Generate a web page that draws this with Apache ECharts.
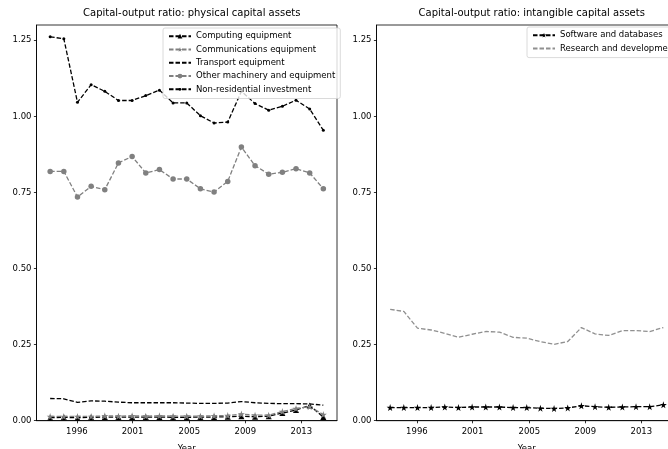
<!DOCTYPE html>
<html>
<head>
<meta charset="utf-8">
<script src="https://cdn.jsdelivr.net/npm/echarts@6/dist/echarts.min.js"></script>
<style>
html,body{margin:0;padding:0;background:#fff;}
#chart{width:668px;height:449px;}
</style>
</head>
<body>
<div id="chart"></div>
<script>
// ---- data (x = observation index 0..20) ----
const tickPositions = [1.96, 6.03, 10.19, 14.29, 18.39];
const tickLabels = ['1996', '2001', '2005', '2009', '2013'];
const yTicks = [0, 0.25, 0.5, 0.75, 1.0, 1.25];

const computing = [0.010, 0.011, 0.010, 0.011, 0.012, 0.012, 0.012, 0.012, 0.012, 0.011, 0.011, 0.012, 0.012, 0.013, 0.015, 0.013, 0.015, 0.025, 0.035, 0.050, 0.012];
const communications = [0.014, 0.014, 0.014, 0.014, 0.016, 0.015, 0.016, 0.015, 0.016, 0.015, 0.015, 0.015, 0.016, 0.017, 0.022, 0.018, 0.018, 0.030, 0.040, 0.046, 0.020];
const transport = [0.073, 0.072, 0.060, 0.065, 0.064, 0.061, 0.059, 0.059, 0.059, 0.059, 0.058, 0.057, 0.057, 0.058, 0.063, 0.059, 0.057, 0.056, 0.056, 0.055, 0.051];
const otherMachinery = [0.819, 0.819, 0.735, 0.770, 0.759, 0.847, 0.868, 0.814, 0.825, 0.794, 0.794, 0.762, 0.751, 0.786, 0.899, 0.838, 0.810, 0.816, 0.828, 0.814, 0.762];
const nonResidential = [1.261, 1.255, 1.046, 1.104, 1.082, 1.052, 1.052, 1.068, 1.086, 1.044, 1.044, 1.002, 0.978, 0.981, 1.082, 1.042, 1.020, 1.033, 1.053, 1.024, 0.954];
const software = [0.043, 0.043, 0.043, 0.043, 0.045, 0.043, 0.045, 0.045, 0.045, 0.043, 0.043, 0.041, 0.040, 0.042, 0.049, 0.046, 0.044, 0.045, 0.046, 0.046, 0.052];
const researchDev = [0.366, 0.359, 0.304, 0.298, 0.287, 0.274, 0.284, 0.293, 0.291, 0.274, 0.271, 0.260, 0.251, 0.260, 0.306, 0.285, 0.280, 0.296, 0.296, 0.293, 0.306];

const titles = ['Capital-output ratio: physical capital assets', 'Capital-output ratio: intangible capital assets'];

// ---- styling ----
const FONT = 'DejaVu Sans';
const BLACK = '#000000';
const GREY = '#808080';
const DASH = [4.5, 2];
const STAR = 'path://M50,0 L61,35 L98,35 L68,57 L79,91 L50,70 L21,91 L32,57 L2,35 L39,35 Z';
// invisible marker (used so the legend shows a bare line) and a small dot with padding
const NOMARK = 'path://M0,0 M10,10';
const SMALLDOT = 'path://M0,0 M10,10 M5,2 A3,3 0 1,1 5,8 A3,3 0 1,1 5,2 Z';

function pairs(arr) { return arr.map((v, i) => [i, v]); }

function mkSeries(name, data, color, symbol, size, gi, showSym) {
  return {
    name: name, type: 'line', xAxisIndex: gi, yAxisIndex: gi,
    data: pairs(data),
    symbol: symbol, symbolSize: size, showSymbol: showSym !== false, showAllSymbol: true,
    lineStyle: { color: color, width: 1.3, type: DASH },
    itemStyle: { color: color },
    emphasis: { disabled: true },
    z: 2
  };
}

const gridTop = 25, gridH = 395.7, gridW = 300.5;

function xAxis(gi) {
  return {
    type: 'value', gridIndex: gi, min: -1, max: 21,
    splitLine: { show: false },
    axisLine: { show: true, onZero: false, lineStyle: { color: BLACK, width: 0.8 } },
    axisTick: { show: true, length: 2.6, customValues: tickPositions, lineStyle: { color: BLACK, width: 0.8 } },
    axisLabel: {
      show: true, customValues: tickPositions, margin: 7,
      fontFamily: FONT, fontSize: 8.5, color: '#000',
      formatter: function (v) { const k = tickPositions.indexOf(v); return k >= 0 ? tickLabels[k] : ''; }
    },
    name: 'Year', nameLocation: 'middle', nameGap: 24,
    nameTextStyle: { fontFamily: FONT, fontSize: 8.5, color: '#000' }
  };
}
function yAxis(gi) {
  return {
    type: 'value', gridIndex: gi, min: 0, max: 1.3,
    splitLine: { show: false },
    axisLine: { show: true, onZero: false, lineStyle: { color: BLACK, width: 0.8 } },
    axisTick: { show: true, length: 2.6, customValues: yTicks, lineStyle: { color: BLACK, width: 0.8 } },
    axisLabel: {
      show: true, customValues: yTicks, margin: 5,
      fontFamily: FONT, fontSize: 8.5, color: '#000',
      formatter: function (v) { return v.toFixed(2); }
    }
  };
}

const legendCommon = {
  orient: 'vertical', selectedMode: false,
  itemWidth: 22, itemHeight: 6, itemGap: 3,
  padding: [3, 5, 4, 5],
  backgroundColor: 'rgba(255,255,255,0.8)',
  borderColor: '#d0d0d0', borderWidth: 0.8, borderRadius: 2,
  textStyle: { fontFamily: FONT, fontSize: 8.5, lineHeight: 10.3, color: '#000' },
  z: 10
};

const gridCommon = { show: true, borderColor: BLACK, borderWidth: 0.8, backgroundColor: 'transparent', outerBoundsMode: 'none', containLabel: false };

const option = {
  animation: false,
  backgroundColor: '#fff',
  title: [
    { text: titles[0], left: 36.5 + gridW / 2, textAlign: 'center', top: 3,
      textStyle: { fontFamily: FONT, fontSize: 10, fontWeight: 'normal', color: '#000' } },
    { text: titles[1], left: 376.5 + gridW / 2, textAlign: 'center', top: 3,
      textStyle: { fontFamily: FONT, fontSize: 10, fontWeight: 'normal', color: '#000' } }
  ],
  grid: [
    Object.assign({ left: 36.5, top: gridTop, width: gridW, height: gridH }, gridCommon),
    Object.assign({ left: 376.5, top: gridTop, width: gridW, height: gridH }, gridCommon)
  ],
  xAxis: [xAxis(0), xAxis(1)],
  yAxis: [yAxis(0), yAxis(1)],
  legend: [
    Object.assign({}, legendCommon, {
      left: 163, top: 28,
      data: ['Computing equipment', 'Communications equipment', 'Transport equipment', 'Other machinery and equipment', 'Non-residential investment']
    }),
    Object.assign({}, legendCommon, {
      left: 527, top: 27,
      data: ['Software and databases', 'Research and development']
    })
  ],
  series: [
    mkSeries('Computing equipment', computing, BLACK, 'triangle', 6, 0),
    mkSeries('Communications equipment', communications, GREY, STAR, 7, 0),
    mkSeries('Transport equipment', transport, BLACK, NOMARK, 1, 0, false),
    mkSeries('Other machinery and equipment', otherMachinery, GREY, 'circle', 5.5, 0),
    mkSeries('Non-residential investment', nonResidential, BLACK, SMALLDOT, 5, 0),
    mkSeries('Software and databases', software, BLACK, STAR, 7, 1),
    mkSeries('Research and development', researchDev, '#909090', NOMARK, 1, 1, false)
  ]
};

const chart = echarts.init(document.getElementById('chart'), null, { renderer: 'canvas' });
chart.setOption(option);
</script>
</body>
</html>
